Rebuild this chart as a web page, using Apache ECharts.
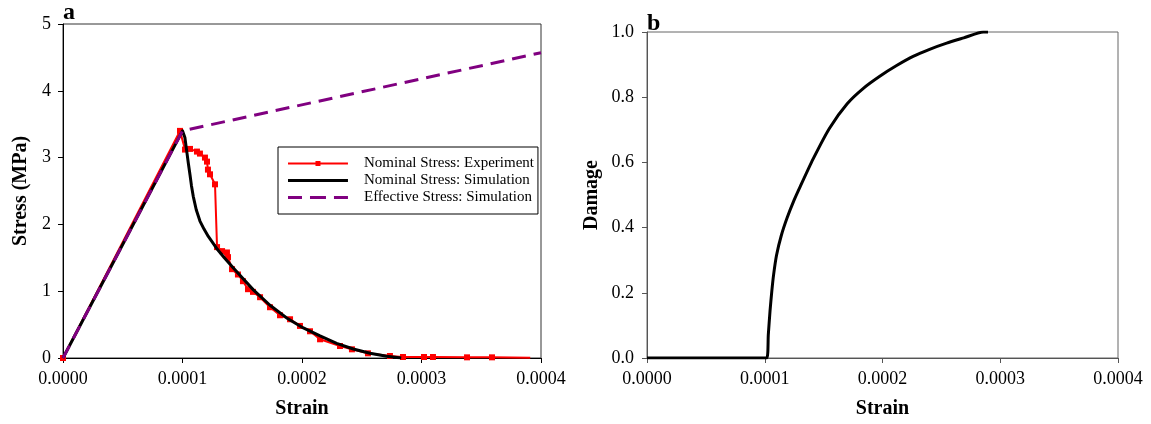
<!DOCTYPE html>
<html>
<head>
<meta charset="utf-8">
<script src="https://cdn.jsdelivr.net/npm/echarts@6/dist/echarts.min.js"></script>
<style>html,body{margin:0;padding:0;background:#fff}#c{width:1151px;height:424px}</style>
</head>
<body>
<div id="c"></div>
<script>
// Panel a: stress-strain
var expStrain = [0, 0.0000979, 0.0001021, 0.0001063, 0.0001121, 0.0001146, 0.0001188, 0.0001205, 0.0001213, 0.0001230, 0.0001272, 0.0001289, 0.0001331, 0.0001372, 0.0001381, 0.0001414, 0.0001464, 0.0001506, 0.0001548, 0.0001590, 0.0001649, 0.0001732, 0.0001816, 0.0001900, 0.0001983, 0.0002067, 0.0002151, 0.0002318, 0.0002418, 0.0002552, 0.0002736, 0.0002845, 0.0003021, 0.0003096, 0.0003381, 0.0003590];
var expStress = [0, 3.40, 3.12, 3.13, 3.09, 3.06, 3.00, 2.94, 2.82, 2.75, 2.60, 1.66, 1.60, 1.58, 1.51, 1.33, 1.25, 1.15, 1.03, 0.99, 0.91, 0.76, 0.64, 0.58, 0.48, 0.40, 0.28, 0.18, 0.13, 0.07, 0.03, 0.015, 0.015, 0.015, 0.01, 0.01];
var expTailStrain = 0.000391, expTailStress = 0.005;

var simStrain = [0, 0.000100, 0.000102, 0.0001035, 0.000105, 0.0001063, 0.0001075, 0.000109, 0.0001115, 0.0001146, 0.000118, 0.0001216, 0.0001286, 0.000135, 0.000142, 0.00015, 0.0001593, 0.0001732, 0.0001872, 0.0002011, 0.0002151, 0.000229, 0.0002429, 0.0002569, 0.0002709, 0.000283];
var simStress = [0, 3.40, 3.30, 3.10, 2.90, 2.74, 2.58, 2.42, 2.22, 2.05, 1.93, 1.82, 1.64, 1.50, 1.36, 1.20, 1.02, 0.79, 0.60, 0.45, 0.33, 0.22, 0.135, 0.07, 0.025, 0.0];

var effStrain = [0, 0.0001, 0.0004];
var effStress = [0, 3.40, 4.57];

// Panel b: damage-strain
var dmgStrain = [0, 0.0001017, 0.000103, 0.0001045, 0.000106, 0.0001075, 0.00011, 0.000114, 0.000119, 0.000125, 0.00013, 0.000141, 0.000155, 0.00017, 0.000184, 0.000198, 0.000212, 0.000226, 0.00024, 0.0002545, 0.000269, 0.0002856, 0.0002896];
var dmgValue = [0, 0, 0.07, 0.145, 0.205, 0.255, 0.315, 0.375, 0.43, 0.485, 0.525, 0.61, 0.705, 0.78, 0.828, 0.865, 0.897, 0.925, 0.947, 0.966, 0.982, 1.0, 1.0];

var xTicks = [0, 0.0001, 0.0002, 0.0003, 0.0004];

function pairs(a, b) { return a.map(function (v, i) { return [v, b[i]]; }); }

var expData = pairs(expStrain, expStress).map(function (p) { return {value: p}; });
expData.push({value: [expTailStrain, expTailStress], symbol: 'none'});

var serif = '"Liberation Serif", "Times New Roman", serif';
var chart = echarts.init(document.getElementById('c'), null, {renderer: 'canvas'});

function xAxisCfg(gi, lineColor) {
  return {
    type: 'value', gridIndex: gi, min: xTicks[0], max: xTicks[xTicks.length - 1], interval: 0.0001,
    name: 'Strain', nameLocation: 'middle', nameGap: 41,
    nameTextStyle: {fontFamily: serif, fontWeight: 'bold', fontSize: 20, color: '#000'},
    axisLine: {show: true, lineStyle: {color: lineColor, width: 1}},
    axisTick: {show: true, inside: false, length: 5, lineStyle: {color: lineColor}},
    axisLabel: {fontFamily: serif, fontSize: 18, color: '#000', margin: 12,
      formatter: function (v) { return v.toFixed(4); }},
    splitLine: {show: false}
  };
}

// legend icons (thin bbox markers keep the icon box 60x14)
var bbox = 'M0,0h0.01v0.01h-0.01z M0,14h0.01v0.01h-0.01z ';
var iconExp = 'path://' + bbox + 'M0,6h60v2h-60z M27.5,4.5h5v5h-5z';
var iconSim = 'path://' + bbox + 'M0,5.5h60v3h-60z';
var iconEff = 'path://' + bbox + 'M0,5.5h14v3h-14z M22,5.5h16v3h-16z M46,5.5h14v3h-14z';

chart.setOption({
  animation: false,
  backgroundColor: '#fff',
  grid: [
    {left: 63, right: 610, top: 24, bottom: 65, show: true, borderColor: '#333', borderWidth: 1},
    {left: 647, right: 33, top: 32, bottom: 62, show: true, borderColor: '#666', borderWidth: 1}
  ],
  xAxis: [xAxisCfg(0, '#000'), xAxisCfg(1, '#555')],
  yAxis: [
    {type: 'value', gridIndex: 0, min: 0, max: 5, interval: 1,
     name: 'Stress (MPa)', nameLocation: 'middle', nameGap: 32,
     nameTextStyle: {fontFamily: serif, fontWeight: 'bold', fontSize: 20, color: '#000'},
     axisLine: {show: true, lineStyle: {color: '#000'}},
     axisTick: {show: true, length: 5, lineStyle: {color: '#000'}},
     axisLabel: {fontFamily: serif, fontSize: 18, color: '#000', margin: 12},
     splitLine: {show: false}},
    {type: 'value', gridIndex: 1, min: 0, max: 1, interval: 0.2,
     name: 'Damage', nameLocation: 'middle', nameGap: 45,
     nameTextStyle: {fontFamily: serif, fontWeight: 'bold', fontSize: 20, color: '#000'},
     axisLine: {show: true, lineStyle: {color: '#555'}},
     axisTick: {show: true, length: 5, lineStyle: {color: '#555'}},
     axisLabel: {fontFamily: serif, fontSize: 18, color: '#000', margin: 13,
       formatter: function (v) { return v.toFixed(1); }},
     splitLine: {show: false}}
  ],
  legend: {
    orient: 'vertical', left: 278, top: 147,
    padding: [9, 4, 9, 10], itemGap: 2, itemWidth: 60, itemHeight: 14,
    borderColor: '#000', borderWidth: 1, backgroundColor: '#fff',
    textStyle: {fontFamily: serif, fontSize: 15, color: '#000', padding: [0, 0, 0, 11]},
    data: [
      {name: 'Nominal Stress: Experiment', icon: iconExp},
      {name: 'Nominal Stress: Simulation', icon: iconSim},
      {name: 'Effective Stress: Simulation', icon: iconEff}
    ]
  },
  graphic: [
    {type: 'text', left: 63, top: 1, style: {text: 'a', font: 'bold 24px ' + serif, fill: '#000'}},
    {type: 'text', left: 647, top: 12, style: {text: 'b', font: 'bold 24px ' + serif, fill: '#000'}}
  ],
  series: [
    {name: 'Nominal Stress: Experiment', type: 'line', xAxisIndex: 0, yAxisIndex: 0,
     data: expData, symbol: 'rect', symbolSize: 6, showSymbol: true,
     lineStyle: {color: '#ff0000', width: 2}, itemStyle: {color: '#ff0000'}, z: 2},
    {name: 'Nominal Stress: Simulation', type: 'line', xAxisIndex: 0, yAxisIndex: 0,
     data: pairs(simStrain, simStress), symbol: 'none', smooth: false,
     lineStyle: {color: '#000', width: 3, join: 'round'}, itemStyle: {color: '#000'}, z: 3},
    {name: 'Effective Stress: Simulation', type: 'line', xAxisIndex: 0, yAxisIndex: 0,
     data: pairs(effStrain, effStress), symbol: 'none',
     lineStyle: {color: '#800080', width: 3, type: [14, 8]}, itemStyle: {color: '#800080'}, z: 4},
    {name: 'Damage', type: 'line', xAxisIndex: 1, yAxisIndex: 1,
     data: pairs(dmgStrain, dmgValue), symbol: 'none', smooth: 0.2,
     lineStyle: {color: '#000', width: 3, join: 'round'}, itemStyle: {color: '#000'}, z: 3}
  ]
});
</script>
</body>
</html>
